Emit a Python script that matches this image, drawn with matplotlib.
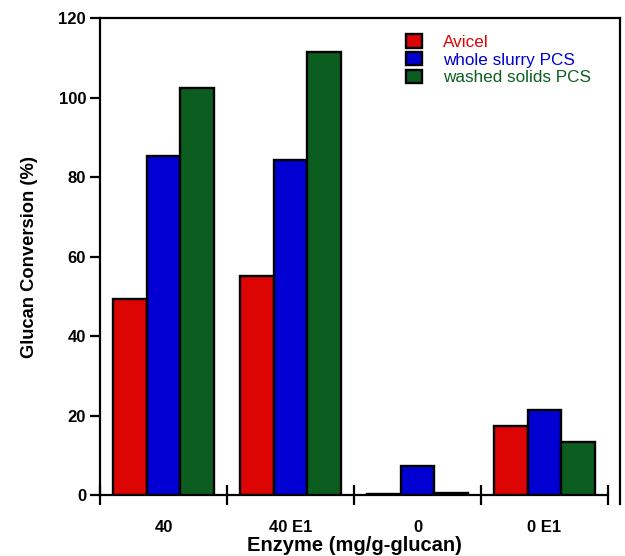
import matplotlib
matplotlib.use("Agg")
import matplotlib.pyplot as plt
import numpy as np
from matplotlib.lines import Line2D

categories = ["40", "40 E1", "0", "0 E1"]
series_names = ["Avicel", "whole slurry PCS", "washed solids PCS"]
avicel = [49.2, 55.1, 0.2, 17.4]
whole_slurry = [85.3, 84.3, 7.3, 21.5]
washed_solids = [102.5, 111.5, 0.6, 13.3]
y_ticks = [0, 20, 40, 60, 80, 100, 120]

COLORS = ["#DD0404", "#0000D2", "#0B5E1F"]

plt.rcParams.update({
    "font.family": ["Liberation Sans", "DejaVu Sans"],
    "font.weight": "bold",
})

fig = plt.figure(figsize=(6.25, 5.56), dpi=100)
ax = fig.add_axes([0.16, 0.1097, 0.8128, 0.8579])

x = np.arange(len(categories))
width = 0.8 / 3
values = [avicel, whole_slurry, washed_solids]
handles = []
for i, (vals, color, name) in enumerate(zip(values, COLORS, series_names)):
    bars = ax.bar(x + (i - 1) * width, vals, width=width, color=color,
                  edgecolor="black", linewidth=1.7, label=name, zorder=3)
    handles.append(bars[0])

ax.set_xlim(-0.5, 3.5)
ax.set_ylim(0, 120)
ax.set_yticks(y_ticks)
ax.set_yticklabels([str(v) for v in y_ticks], fontsize=12, fontweight="bold")

ax.set_xticks(x)
ax.set_xticklabels(categories, fontsize=12, fontweight="bold")
ax.set_xticks(np.arange(-0.5, 3.6, 1.0), minor=True)
ax.tick_params(axis="x", which="major", length=0, pad=18)
ax.tick_params(axis="x", which="minor", length=14, width=1.6, direction="inout")
ax.tick_params(axis="y", which="major", length=7, width=1.6, direction="out", pad=3)

for side in ("left", "bottom"):
    ax.spines[side].set_linewidth(1.6)
ax.spines["top"].set_visible(False)
ax.spines["right"].set_visible(False)

# open frame drawn a little past the plotting area, as in the source figure
fig.add_artist(Line2D([0.16, 0.992], [0.9676, 0.9676], color="black", linewidth=1.6,
                      transform=fig.transFigure))
fig.add_artist(Line2D([0.992, 0.992], [0.9676, 0.094], color="black", linewidth=1.6,
                      transform=fig.transFigure))

ax.set_ylabel("Glucan Conversion (%)", fontsize=13.2, fontweight="bold", labelpad=15)
ax.set_xlabel("Enzyme (mg/g-glucan)", fontsize=14.5, fontweight="bold", labelpad=0.5)

leg = ax.legend(handles, series_names, loc="upper left", bbox_to_anchor=(0.602, 0.966),
                frameon=False, handlelength=0.95, handleheight=0.84,
                labelspacing=0.12, handletextpad=1.2, borderpad=0, borderaxespad=0,
                prop={"weight": "normal", "size": 12.3})
for text, color in zip(leg.get_texts(), COLORS):
    text.set_color(color)

fig.savefig("out.png", dpi=100)
